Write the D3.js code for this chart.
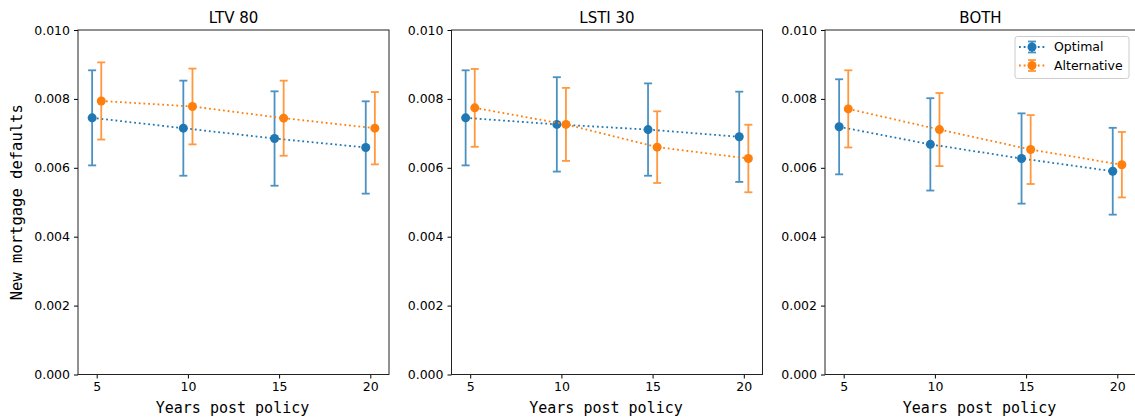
<!DOCTYPE html>
<html>
<head>
<meta charset="utf-8">
<script src="https://cdn.jsdelivr.net/npm/d3@7"></script>
<style>
  html, body { margin: 0; padding: 0; background: #fff; }
  svg { display: block; }
  text { font-family: "DejaVu Sans", sans-serif; fill: #000; }
  .mono { font-family: "DejaVu Sans Mono", monospace; }
</style>
</head>
<body>
<svg id="chart" width="1135" height="417"></svg>
<script>
// Policy scenarios, one panel each
const panels = ["LTV 80", "LSTI 30", "BOTH"];
const years = [5, 10, 15, 20];
const yTicks = [0, 0.002, 0.004, 0.006, 0.008, 0.010];
const seriesNames = ["Optimal", "Alternative"];

// Mean new mortgage default rates per panel
const optimalMean = [
  [0.00745, 0.00715, 0.00685, 0.00659],
  [0.00745, 0.00726, 0.00711, 0.00690],
  [0.00719, 0.00668, 0.00627, 0.00590]
];
const alternativeMean = [
  [0.00794, 0.00778, 0.00744, 0.00715],
  [0.00774, 0.00726, 0.00660, 0.00627],
  [0.00771, 0.00711, 0.00653, 0.00609]
];
// Half-widths of the error bars
const optimalErr = [
  [0.00138, 0.00138, 0.00137, 0.00134],
  [0.00138, 0.00137, 0.00134, 0.00131],
  [0.00138, 0.00134, 0.00131, 0.00126]
];
const alternativeErr = [
  [0.00112, 0.00110, 0.00109, 0.00105],
  [0.00113, 0.00106, 0.00104, 0.00098],
  [0.00112, 0.00106, 0.00100, 0.00095]
];

const colors = ["#1f77b4", "#ff7f0e"];
const offsets = [-0.25, 0.25];

const svg = d3.select("#chart");
const panelLeft = [78, 451.5, 825];
const panelW = 311;
const plotTop = 30, plotBottom = 374.5;

const y = d3.scaleLinear().domain([0, 0.010]).range([plotBottom, plotTop]);

panels.forEach((title, p) => {
  const x = d3.scaleLinear().domain([3.975, 21.025])
    .range([panelLeft[p], panelLeft[p] + panelW]);
  const g = svg.append("g");

  // Axes
  const xAxis = d3.axisBottom(x).tickValues(years).tickSize(4).tickPadding(4)
    .tickFormat(d3.format("d"));
  const yAxis = d3.axisLeft(y).tickValues(yTicks).tickSize(4).tickPadding(4)
    .tickFormat(d3.format(".3f"));
  const gx = g.append("g").attr("transform", `translate(0,${plotBottom})`).call(xAxis);
  const gy = g.append("g").attr("transform", `translate(${panelLeft[p]},0)`).call(yAxis);
  [gx, gy].forEach(a => {
    a.select(".domain").remove();
    a.selectAll(".tick line").attr("stroke", "#000").attr("stroke-width", 1);
    a.selectAll(".tick text").attr("font-size", 12.5).attr("fill", "#222")
      .style("font-family", "DejaVu Sans, sans-serif");
  });

  // Frame
  g.append("rect")
    .attr("x", panelLeft[p]).attr("y", plotTop)
    .attr("width", panelW).attr("height", plotBottom - plotTop)
    .attr("fill", "none").attr("stroke", "#222").attr("stroke-width", 1);

  // Title
  g.append("text").attr("x", panelLeft[p] + panelW / 2).attr("y", 23)
    .attr("text-anchor", "middle").attr("font-size", 15).text(title);

  // X label
  g.append("text").attr("class", "mono")
    .attr("x", panelLeft[p] + panelW / 2 - 1).attr("y", 413)
    .attr("text-anchor", "middle").attr("font-size", 15).attr("fill", "#222")
    .text("Years post policy");

  // Series
  const means = [optimalMean[p], alternativeMean[p]];
  const errs = [optimalErr[p], alternativeErr[p]];
  means.forEach((m, s) => {
    const pts = years.map((yr, i) => ({ x: yr + offsets[s], v: m[i], e: errs[s][i] }));
    const line = d3.line().x(d => x(d.x)).y(d => y(d.v));
    g.append("path").datum(pts).attr("d", line)
      .attr("fill", "none").attr("stroke", colors[s]).attr("stroke-width", 1.8)
      .attr("stroke-dasharray", "1.8,2.9");
    const eb = g.append("g").attr("stroke", colors[s]).attr("stroke-width", 1.8)
      .attr("opacity", 0.8);
    pts.forEach(d => {
      const cx = x(d.x);
      eb.append("line").attr("x1", cx).attr("x2", cx)
        .attr("y1", y(d.v - d.e)).attr("y2", y(d.v + d.e));
      [d.v - d.e, d.v + d.e].forEach(c => {
        eb.append("line").attr("x1", cx - 4).attr("x2", cx + 4)
          .attr("y1", y(c)).attr("y2", y(c));
      });
    });
    g.append("g").selectAll("circle").data(pts).join("circle")
      .attr("cx", d => x(d.x)).attr("cy", d => y(d.v)).attr("r", 4.5)
      .attr("fill", colors[s]);
  });
});

// Y label on first panel
svg.append("text").attr("class", "mono")
  .attr("transform", `translate(22,${(plotTop + plotBottom) / 2}) rotate(-90)`)
  .attr("text-anchor", "middle").attr("font-size", 15.5).attr("fill", "#222")
  .text("New mortgage defaults");

// Legend in the last panel
const lg = svg.append("g");
lg.append("rect").attr("x", 1015).attr("y", 36.5).attr("width", 114).attr("height", 42)
  .attr("rx", 2.5).attr("fill", "#fff").attr("fill-opacity", 0.8)
  .attr("stroke", "#ccc").attr("stroke-width", 1);
seriesNames.forEach((name, s) => {
  const cy = 47 + s * 18.5;
  lg.append("line").attr("x1", 1019).attr("x2", 1046).attr("y1", cy).attr("y2", cy)
    .attr("stroke", colors[s]).attr("stroke-width", 1.8).attr("stroke-dasharray", "1.8,2.9");
  const e = lg.append("g").attr("stroke", colors[s]).attr("stroke-width", 1.8).attr("opacity", 0.8);
  e.append("line").attr("x1", 1032).attr("x2", 1032).attr("y1", cy - 5.5).attr("y2", cy + 5.5);
  e.append("line").attr("x1", 1028).attr("x2", 1036).attr("y1", cy - 5.5).attr("y2", cy - 5.5);
  e.append("line").attr("x1", 1028).attr("x2", 1036).attr("y1", cy + 5.5).attr("y2", cy + 5.5);
  lg.append("circle").attr("cx", 1032).attr("cy", cy).attr("r", 4.5).attr("fill", colors[s]);
  lg.append("text").attr("x", 1054).attr("y", cy).attr("dy", "0.35em")
    .attr("font-size", 12.5).text(name);
});
</script>
</body>
</html>
